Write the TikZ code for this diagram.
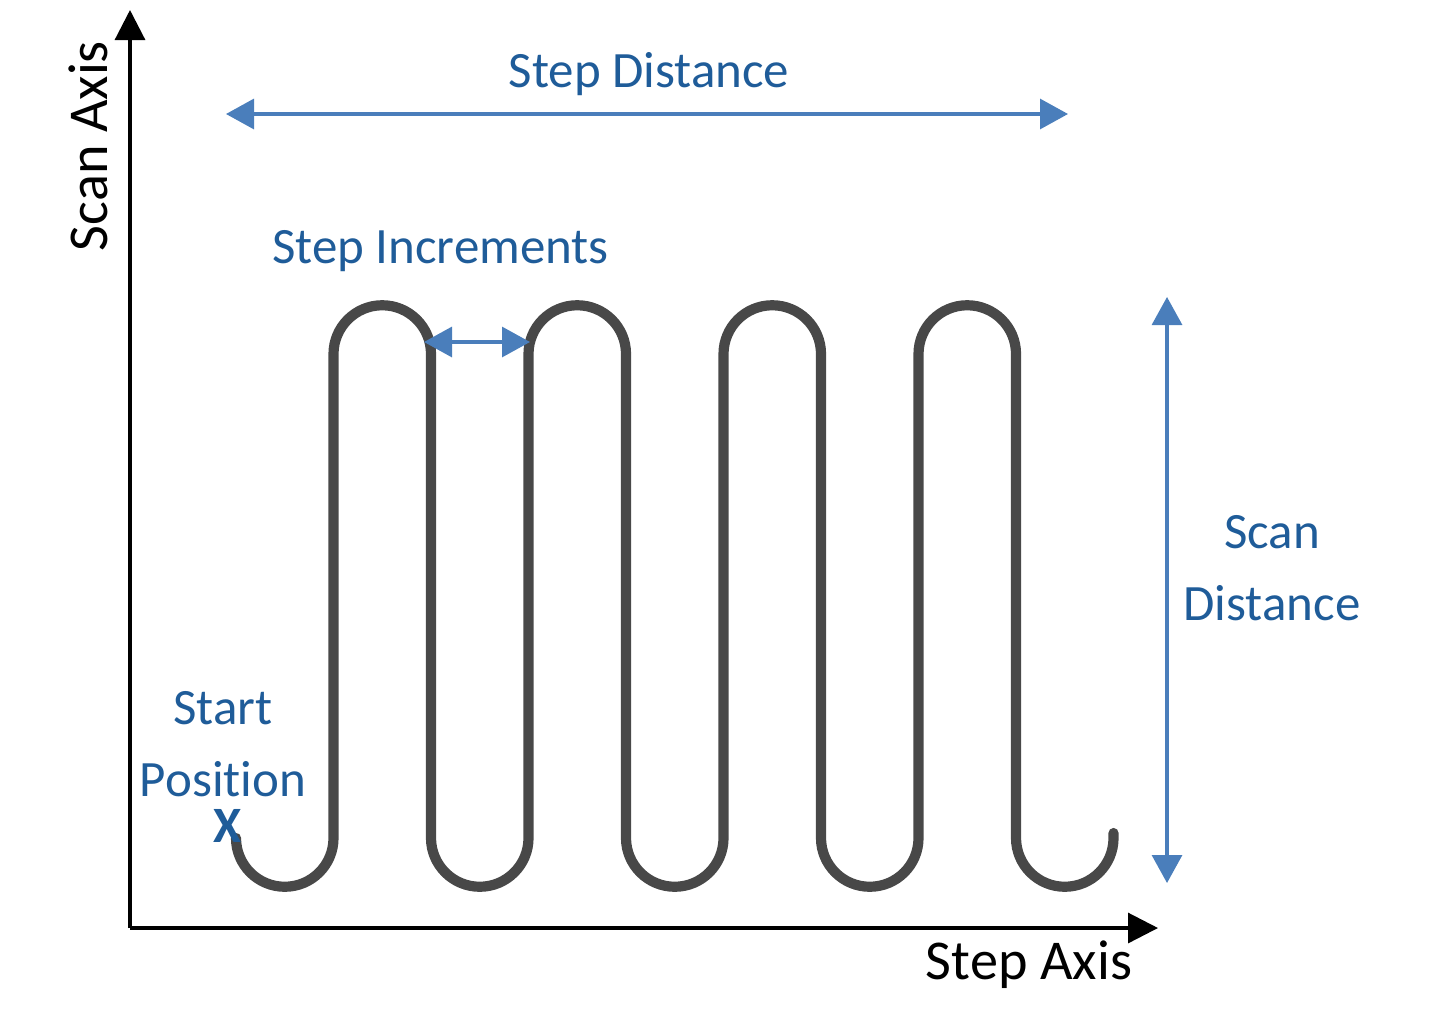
\documentclass[tikz,border=0pt]{standalone}
\usepackage{fontspec}
\setmainfont{Carlito}[RawFeature=-liga]
\usetikzlibrary{arrows.meta}

\definecolor{dimblue}{HTML}{4A7EBB}
\definecolor{txtblue}{HTML}{1F5C99}
\definecolor{pathgray}{HTML}{484848}

\tikzset{
  axisline/.style={line width=0.9pt, -{Triangle[length=0.30cm,width=0.30cm]}},
  dimline/.style={draw=dimblue, line width=0.9pt, {Triangle[length=0.28cm,width=0.30cm]}-{Triangle[length=0.28cm,width=0.30cm]}, dimblue},
  lbl/.style={font=\fontsize{14.5}{20.5}\selectfont, inner sep=0pt, align=center},
  axislbl/.style={lbl, font=\fontsize{16}{19}\selectfont},
  bluelbl/.style={lbl, text=txtblue}
}

\begin{document}
\begin{tikzpicture}
\useasboundingbox (0,0) rectangle (14.47,10.12);
% axes
\coordinate (O) at (1.30,0.84);
\coordinate (ytip) at (1.30,10.02);
\coordinate (xtip) at (11.58,0.84);
\draw [axisline] (O) -- (ytip);
\draw [axisline] (O) -- (xtip);
\node [axislbl, rotate=90] (scanaxis) at (0.88,8.66) {Scan Axis};
\node [axislbl] (stepaxis) at (10.29,0.47) {Step Axis};
% scan path
\draw [pathgray, line width=2.9pt, line cap=round]
  (2.36,1.74) arc [start angle=180, end angle=360, radius=0.4875] -- ++(0,4.84)
  arc [start angle=180, end angle=0, radius=0.4875] -- ++(0,-4.84)
  arc [start angle=180, end angle=360, radius=0.4875] -- ++(0,4.84)
  arc [start angle=180, end angle=0, radius=0.4875] -- ++(0,-4.84)
  arc [start angle=180, end angle=360, radius=0.4875] -- ++(0,4.84)
  arc [start angle=180, end angle=0, radius=0.4875] -- ++(0,-4.84)
  arc [start angle=180, end angle=360, radius=0.4875] -- ++(0,4.84)
  arc [start angle=180, end angle=0, radius=0.4875] -- ++(0,-4.84)
  arc [start angle=180, end angle=360, radius=0.4875] -- ++(0,0.05);
% step distance
\coordinate (distL) at (2.26,8.98);
\coordinate (distR) at (10.68,8.98);
\draw [dimline] (distL) -- (distR);
\node [bluelbl] (distlabel) at (6.49,9.38) {Step Distance};
% step increments
\coordinate (incrL) at (4.24,6.70);
\coordinate (incrR) at (5.30,6.70);
\draw [dimline] (incrL) -- (incrR);
\node [bluelbl] (incrlabel) at (4.405,7.61) {Step Increments};
% scan distance
\coordinate (scanT) at (11.67,7.15);
\coordinate (scanB) at (11.67,1.29);
\draw [dimline] (scanT) -- (scanB);
\node [bluelbl] (scandistlabel) at (12.72,4.44) {Scan\\Distance};
% start position
\node [bluelbl] (startlabel) at (2.23,2.68) {Start\\Position};
\node [bluelbl, font=\fontsize{14.5}{17}\selectfont\bfseries] (startmark) at (2.28,1.86) {X};
\end{tikzpicture}
\end{document}
